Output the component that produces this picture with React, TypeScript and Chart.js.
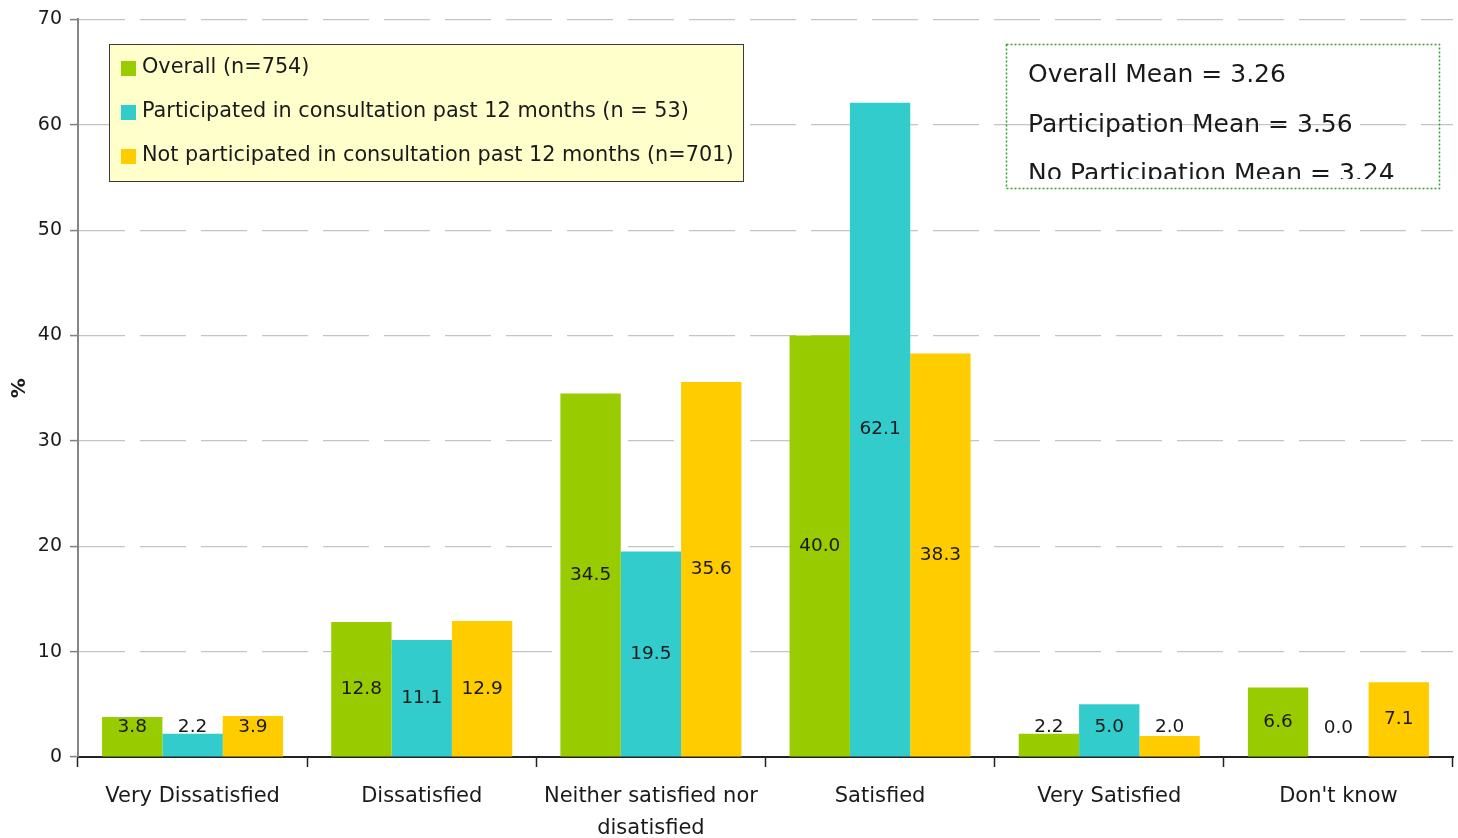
import React, { useEffect, useRef } from "react";
import { Chart, registerables } from "chart.js";

Chart.register(...registerables);

const categories: (string | string[])[] = [
  "Very Dissatisfied",
  "Dissatisfied",
  ["Neither satisfied nor", "disatisfied"],
  "Satisfied",
  "Very Satisfied",
  "Don't know",
];

const overall = [3.8, 12.8, 34.5, 40.0, 2.2, 6.6];
const participated = [2.2, 11.1, 19.5, 62.1, 5.0, 0.0];
const notParticipated = [3.9, 12.9, 35.6, 38.3, 2.0, 7.1];

const seriesLabels = [
  "Overall (n=754)",
  "Participated in consultation past 12 months (n = 53)",
  "Not participated in consultation past 12 months (n=701)",
];
const seriesColors = ["#99CC00", "#33CCCC", "#FFCC00"];

const meanLines = [
  "Overall Mean = 3.26",
  "Participation Mean = 3.56",
  "No Participation Mean = 3.24",
];

const yTicks = [0, 10, 20, 30, 40, 50, 60, 70];

const FONT = "'DejaVu Sans', sans-serif";
const TEXT = "#1a1a1a";

const valueLabelPlugin = {
  id: "valueLabels",
  afterDatasetsDraw(chart: any) {
    const ctx = chart.ctx;
    ctx.save();
    ctx.font = `18.5px ${FONT}`;
    ctx.fillStyle = TEXT;
    ctx.textAlign = "center";
    ctx.textBaseline = "middle";
    chart.data.datasets.forEach((ds: any, di: number) => {
      const meta = chart.getDatasetMeta(di);
      meta.data.forEach((el: any, i: number) => {
        const v = ds.data[i];
        const mid = (el.y + el.base) / 2;
        const y = Math.min(mid, el.base - 29);
        ctx.fillText(Number(v).toFixed(1), el.x, y);
      });
    });
    ctx.restore();
  },
};

const boxesPlugin = {
  id: "boxes",
  afterDraw(chart: any) {
    const ctx = chart.ctx;
    // legend box
    ctx.save();
    const lx = 109, ly = 44, lw = 634, lh = 137;
    ctx.fillStyle = "#FFFFCC";
    ctx.fillRect(lx, ly, lw, lh);
    ctx.strokeStyle = "#3a3a3a";
    ctx.lineWidth = 1;
    ctx.strokeRect(lx + 0.5, ly + 0.5, lw, lh);
    ctx.font = `20.8px ${FONT}`;
    ctx.textBaseline = "middle";
    ctx.textAlign = "left";
    chart.data.datasets.forEach((ds: any, i: number) => {
      const cy = 68 + i * 44;
      ctx.fillStyle = ds.backgroundColor;
      ctx.fillRect(121, cy - 7, 15, 15);
      ctx.fillStyle = TEXT;
      ctx.fillText(ds.label, 142, cy);
    });
    ctx.restore();

    // mean box
    ctx.save();
    const mx = 1006, my = 44, mw = 433, mh = 144;
    ctx.beginPath();
    ctx.rect(mx, my, mw, 135);
    ctx.clip();
    ctx.font = `25px ${FONT}`;
    ctx.fillStyle = TEXT;
    ctx.textBaseline = "alphabetic";
    ctx.textAlign = "left";
    meanLines.forEach((t, i) => {
      ctx.fillText(t, 1028, 82 + i * 49.5);
    });
    ctx.restore();
    ctx.save();
    ctx.strokeStyle = "#33A033";
    ctx.lineWidth = 1.5;
    ctx.setLineDash([2, 2]);
    ctx.strokeRect(mx + 0.5, my + 0.5, mw, mh);
    ctx.restore();
  },
};

export default function App() {
  const ref = useRef<HTMLCanvasElement | null>(null);
  useEffect(() => {
    if (!ref.current) return;
    const chart = new Chart(ref.current, {
      type: "bar",
      data: {
        labels: categories as any,
        datasets: [
          { label: seriesLabels[0], data: overall, backgroundColor: seriesColors[0] },
          { label: seriesLabels[1], data: participated, backgroundColor: seriesColors[1] },
          { label: seriesLabels[2], data: notParticipated, backgroundColor: seriesColors[2] },
        ],
      },
      options: {
        animation: false,
        responsive: false,
        devicePixelRatio: 1,
        layout: { padding: { top: 18, right: 5, left: 0, bottom: 0 } },
        datasets: {
          bar: { categoryPercentage: 0.79, barPercentage: 1.0 },
        },
        plugins: {
          legend: { display: false },
          tooltip: { enabled: false },
          title: { display: false },
        },
        scales: {
          x: {
            offset: true,
            grid: {
              offset: true,
              drawOnChartArea: false,
              drawTicks: true,
              tickLength: 10,
              tickColor: "#222",
              tickWidth: 1.5,
            },
            border: { display: true, color: "#222", width: 2 },
            ticks: {
              color: TEXT,
              font: { family: FONT, size: 21, lineHeight: 1.5 },
              padding: 14,
              maxRotation: 0,
              autoSkip: false,
            },
            afterFit(scale: any) {
              scale.height = 81;
            },
          },
          y: {
            min: 0,
            max: 70,
            afterBuildTicks(scale: any) {
              scale.ticks = yTicks.map((v) => ({ value: v }));
            },
            grid: {
              color: "#c4c4c4",
              lineWidth: 1.2,
              drawTicks: true,
              tickLength: 8,
              tickColor: "#808080",
              tickWidth: 1.5,
            },
            border: { display: true, color: "#858585", width: 2, dash: [46, 15] },
            ticks: {
              color: TEXT,
              font: { family: FONT, size: 19 },
              padding: 8,
            },
            title: {
              display: true,
              text: "%",
              color: TEXT,
              font: { family: FONT, size: 20, weight: "bold", lineHeight: 1.2 },
              padding: { top: 8, bottom: 0 },
            },
            afterFit(scale: any) {
              scale.width = 78;
            },
          },
        },
      },
      plugins: [valueLabelPlugin, boxesPlugin],
    } as any);
    return () => chart.destroy();
  }, []);
  return (
    <div style={{ position: "fixed", left: 0, top: 0, width: 1458, height: 838, background: "#fff" }}>
      <canvas ref={ref} width={1458} height={838} style={{ display: "block" }} />
    </div>
  );
}
